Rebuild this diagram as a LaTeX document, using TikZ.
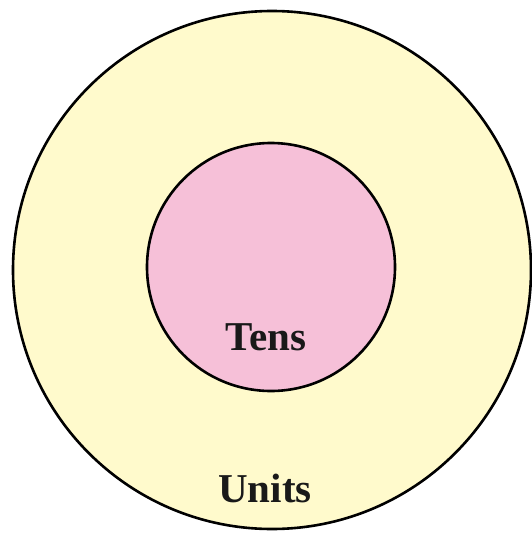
\documentclass[tikz,border=0pt]{standalone}
\usepackage{fontspec}
\setmainfont{Liberation Serif}
\usetikzlibrary{positioning}

\definecolor{unitsyellow}{RGB}{255,250,204}
\definecolor{tenspink}{RGB}{246,192,216}

\begin{document}
\begin{tikzpicture}[
  x=1pt,y=-1pt,
  ring/.style={circle,draw=black,line width=2.6pt,inner sep=0pt},
  lbl/.style={font=\fontsize{41}{41}\selectfont\bfseries,text=black!90,anchor=base,inner sep=0pt}
]
\useasboundingbox (0,0) rectangle (532,533);

% place-value rings
\node[ring,fill=unitsyellow,minimum size=518pt] (units) at (272,270) {};
\node[ring,fill=tenspink,minimum size=248pt] (tens) at (271,267) {};

% labels
\node[lbl] (tenslbl) at (266,350) {Tens};
\node[lbl] (unitslbl) at (265,502) {Units};

\end{tikzpicture}
\end{document}
